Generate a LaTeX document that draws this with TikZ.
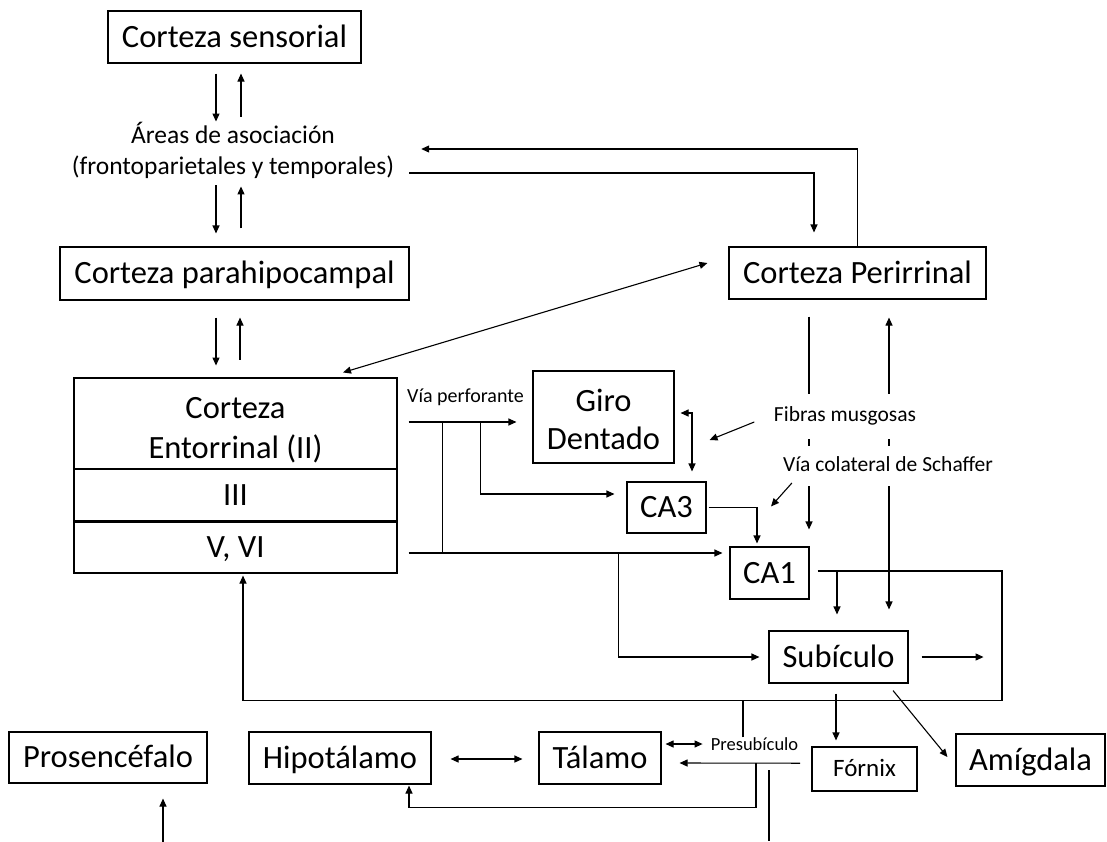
\documentclass[tikz,border=0pt]{standalone}
\usepackage{fontspec}
\setmainfont{Carlito}
\usetikzlibrary{arrows.meta}
\begin{document}
\begin{tikzpicture}[x=1pt,y=-1pt,
  line/.style={line width=1.1pt, draw=black},
  arr/.style={line, -{Triangle[length=8pt,width=7pt]}},
  darr/.style={line, {Triangle[length=8pt,width=7pt]}-{Triangle[length=8pt,width=7pt]}},
  bxm/.style={draw, line width=1.1pt, inner sep=0pt, align=center,
              font=\fontsize{32.5}{38}\selectfont},
  bx/.style={bxm, text height=27.6pt, text depth=6.8pt},
  lbl/.style={inner sep=2pt, align=center},
  gaplbl/.style={fill=white, inner xsep=2pt, text height=15pt, text depth=5pt,
                 font=\fontsize{21.5}{25}\selectfont},
]
\useasboundingbox (0,0) rectangle (1107,841);

% ---- boxes ----
\node[bx, minimum width=253pt, minimum height=52pt] (sens) at (234.5,37) {Corteza sensorial};
\node[lbl, inner sep=0pt, minimum width=352pt, font=\fontsize{25.5}{31}\selectfont]
  (areas) at (233,150.5) {Áreas de asociación\\(frontoparietales y temporales)};
\node[bx, minimum width=349pt, minimum height=53pt] (para) at (234.5,273.5) {Corteza parahipocampal};
\node[bx, minimum width=257pt, minimum height=52pt] (peri) at (857.5,273) {Corteza Perirrinal};

\node[bxm, minimum width=323pt, minimum height=91pt, font=\fontsize{32.5}{40}\selectfont]
  (ec2) at (235.5,423.5) {\rule{0pt}{34pt}Corteza\\Entorrinal (II)};
\node[bx, minimum width=323pt, minimum height=52pt] (ec3) at (235.5,495) {III};
\node[bx, minimum width=323pt, minimum height=52pt] (ec5) at (235.5,547) {V, VI};
\draw[line width=2.2pt] (ec3.south west) -- (ec3.south east);

\node[bxm, minimum width=141pt, minimum height=92pt, font=\fontsize{32.5}{38}\selectfont]
  (giro) at (603.5,417) {\rule{0pt}{28pt}Giro\\Dentado};
\node[bx, minimum width=79pt, minimum height=51pt] (ca3) at (666.5,507.5) {CA3};
\node[bx, minimum width=79pt, minimum height=52pt] (ca1) at (769.5,573) {CA1};
\node[bx, minimum width=139pt, minimum height=52pt] (sub) at (838.5,657) {Subículo};
\node[bx, minimum width=105pt, minimum height=44pt, text height=21.2pt, text depth=5.3pt,
      font=\fontsize{25}{29}\selectfont] (fornix) at (864.5,769) {Fórnix};
\node[bx, minimum width=149pt, minimum height=52pt] (amig) at (1030.5,760) {Amígdala};
\node[bx, minimum width=182pt, minimum height=52pt] (hipo) at (340,758) {Hipotálamo};
\node[bx, minimum width=122pt, minimum height=52pt] (tal) at (600,758) {Tálamo};
\node[bx, minimum width=198pt, minimum height=51pt] (pros) at (108,757.5) {Prosencéfalo};

\node[lbl, font=\fontsize{20}{23}\selectfont] (vp) at (465.5,397) {Vía perforante};
\node[inner sep=0pt, text height=13pt, text depth=4pt, font=\fontsize{18.5}{22}\selectfont]
  (presub) at (754.5,746) {Presubículo};

% ---- cortical loop ----
\draw[arr] ([xshift=-18.5pt,yshift=-10pt]sens.south) -- ++(0,48);
\draw[arr] ([xshift=6.5pt,yshift=-53pt]sens.south) -- ++(0,-43);
\draw[arr] ([xshift=-18.5pt,yshift=61pt]para.north) -- ++(0,48);
\draw[arr] ([xshift=6.5pt,yshift=18pt]para.north) -- ++(0,-42);
\draw[arr] ([xshift=-18.5pt,yshift=-17pt]para.south) -- ++(0,48);
\draw[arr] ([xshift=5.5pt,yshift=-59pt]para.south) -- ++(0,-42);

\draw[arr] (peri.north) |- ([xshift=12pt,yshift=1.5pt]areas.east);
\draw[arr] ([yshift=-22.5pt]areas.east) -| ([xshift=-43.5pt,yshift=14pt]peri.north);
\draw[darr] ([xshift=107.5pt,yshift=5pt]ec2.north) -- ([xshift=-21pt,yshift=10pt]peri.west);

% ---- perforant path ----
\draw[arr] ([xshift=11pt,yshift=1.5pt]ec2.east) -- ([xshift=-16pt,yshift=-5pt]giro.west);
\draw[line] ([xshift=45pt,yshift=1.5pt]ec2.east) -- ([xshift=45pt,yshift=-6pt]ec5.east);
\draw[arr] ([xshift=83pt,yshift=1.5pt]ec2.east) |- ([xshift=-12pt,yshift=13.5pt]ca3.west);
\draw[arr] ([xshift=11pt,yshift=-6pt]ec5.east) -- ([xshift=-7pt,yshift=20pt]ca1.west);
\draw[arr] ([xshift=221pt,yshift=-6pt]ec5.east) |- ([xshift=-9pt]sub.west);

% ---- hippocampal circuit ----
\draw[darr] ([xshift=6pt,yshift=4pt]giro.east) -| ([xshift=25.5pt,yshift=10pt]ca3.north);
\draw[arr] ([xshift=2pt]ca3.east) -| ([xshift=-12.5pt,yshift=3pt]ca1.north);
\draw[arr] ([xshift=-48.5pt,yshift=-17pt]peri.south) -- ([xshift=39.5pt,yshift=17pt]ca1.north);
\draw[darr] ([xshift=31.5pt,yshift=-18pt]peri.south) -- ([xshift=50.5pt,yshift=21pt]sub.north);

\node[gaplbl, inner ysep=12.5pt] (fibras) at (845,416) {Fibras musgosas};
\node[gaplbl, inner ysep=10pt] (schaffer) at (888,466) {Vía colateral de Schaffer};
\draw[arr] ([xshift=-17.5pt,yshift=-6pt]fibras.west) -- ([xshift=35pt,yshift=-23pt]giro.east);
\draw[arr] ([xshift=11pt,yshift=-17pt]schaffer.west) -- ([xshift=1.5pt,yshift=40pt]ca1.north);

% ---- outputs ----
\draw[arr] ([xshift=8pt,yshift=2pt]ca1.east) -| ([xshift=163.5pt,yshift=-17pt]sub.south)
           -| ([xshift=7.5pt,yshift=-2pt]ec5.south);
\draw[arr] ([xshift=-1.5pt,yshift=60pt]sub.north) -- ([xshift=-1.5pt,yshift=16pt]sub.north);
\draw[arr] ([xshift=13pt]sub.east) -- ++(62,0);
\draw[arr] ([xshift=-2.5pt,yshift=-10pt]sub.south) -- ([xshift=-28.5pt,yshift=6pt]fornix.north);
\draw[arr] ([xshift=54.5pt,yshift=-7pt]sub.south) -- ([xshift=-8pt,yshift=3pt]amig.west);

% ---- subcortical targets ----
\draw[line] ([xshift=-11.5pt]presub.north) -- ++(0,-37.5);
\draw[darr] ([xshift=19pt,yshift=-1pt]hipo.east) -- ([xshift=-16pt,yshift=-1pt]tal.west);
\draw[darr] ([xshift=4pt,yshift=14pt]tal.east) -- ([xshift=-8pt,yshift=2pt]presub.west);
\draw[arr] ([xshift=45.5pt,yshift=-8.5pt]presub.south) -- ([xshift=18pt,yshift=-5pt]tal.east);
\draw[arr] ([xshift=1.5pt,yshift=-8.5pt]presub.south) |- ([xshift=69pt,yshift=-23pt]hipo.south)
           -- ([xshift=69pt,yshift=-1pt]hipo.south);
\draw[line] ([xshift=14.5pt,yshift=-15.5pt]presub.south) -- ++(0,71);
\draw[arr] ([xshift=55pt,yshift=-58pt]pros.south) -- ([xshift=55pt,yshift=-15pt]pros.south);
\end{tikzpicture}
\end{document}
